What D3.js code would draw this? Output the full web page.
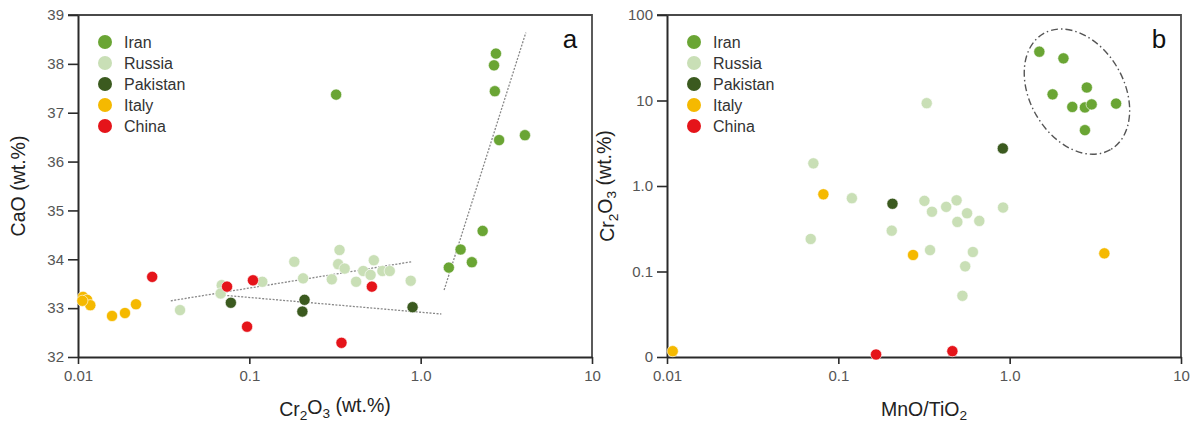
<!DOCTYPE html>
<html>
<head>
<meta charset="utf-8">
<script src="https://cdn.jsdelivr.net/npm/d3@7"></script>
<style>
  body { margin: 0; background: #fff; }
  svg { font-family: "Liberation Sans", Arial, sans-serif; }
</style>
</head>
<body>
<div id="chart"></div>
<script>
// legend / country names and colours
const countries = ["Iran", "Russia", "Pakistan", "Italy", "China"];
const colors = ["#6aa534", "#c9dfb6", "#3b5a1f", "#f5b900", "#e5141a"];

// panel a : Cr2O3 (wt.%) vs CaO (wt.%)
const iranA = [[0.321, 37.37], [2.75, 38.21], [2.68, 37.97], [2.71, 37.44], [2.87, 36.44],
  [4.06, 36.54], [2.30, 34.58], [1.71, 34.20], [1.99, 33.94], [1.46, 33.83]];
const russiaA = [[0.0394, 32.96], [0.069, 33.47], [0.068, 33.30], [0.119, 33.54], [0.183, 33.95],
  [0.206, 33.61], [0.303, 33.59], [0.336, 34.19], [0.33, 33.90], [0.36, 33.81], [0.42, 33.54],
  [0.462, 33.76], [0.51, 33.68], [0.533, 33.98], [0.598, 33.76], [0.66, 33.76], [0.875, 33.56]];
const pakistanA = [[0.078, 33.11], [0.21, 33.17], [0.204, 32.93], [0.897, 33.02]];
const italyA = [[0.0107, 33.23], [0.0113, 33.17], [0.0118, 33.06], [0.0106, 33.15],
  [0.0158, 32.84], [0.0188, 32.90], [0.0218, 33.08]];
const chinaA = [[0.0271, 33.64], [0.0741, 33.44], [0.105, 33.57], [0.097, 32.62], [0.519, 33.44], [0.345, 32.29]];
// dotted trend lines in panel a
const trendsA = [
  [[0.0348, 33.15], [0.886, 33.95]],
  [[0.0677, 33.27], [1.32, 32.88]],
  [[1.37, 33.37], [4.11, 38.64]]
];

// panel b : MnO/TiO2 vs Cr2O3 (wt.%)
const iranB = [[1.49, 37.2], [2.06, 31.1], [1.78, 11.8], [2.82, 14.2], [2.32, 8.4],
  [2.75, 8.3], [3.01, 9.0], [4.18, 9.2], [2.75, 4.5]];
const russiaB = [[0.0715, 1.84], [0.12, 0.72], [0.318, 0.67], [0.352, 0.50], [0.426, 0.57],
  [0.49, 0.68], [0.564, 0.48], [0.495, 0.38], [0.665, 0.39], [0.915, 0.56], [0.069, 0.24],
  [0.205, 0.30], [0.343, 0.178], [0.61, 0.169], [0.55, 0.115], [0.53, 0.052], [0.328, 9.3]];
const pakistanB = [[0.207, 0.62], [0.912, 2.75]];
const italyB = [[0.0818, 0.80], [0.273, 0.156], [3.57, 0.163], [0.0108, 0.0117]];
const chinaB = [[0.166, 0.0107], [0.463, 0.0117]];
// dash-dot ellipse around the Iran group (centre in data units, radii in px, angle in deg)
const ellipseB = { cx: 2.47, cy: 12.7, rx: 67, ry: 47, angle: 60 };

// tick values and labels
const xTicks = [0.01, 0.1, 1, 10];
const xTickLabels = ["0.01", "0.1", "1.0", "10"];
const yTicksA = [32, 33, 34, 35, 36, 37, 38, 39];
const yTicksB = [0.01, 0.1, 1, 10, 100];
const yTickLabelsB = ["0", "0.1", "1.0", "10", "100"];

const W = 1196, H = 423;
const svg = d3.select("#chart").append("svg")
  .attr("width", W).attr("height", H);

function subText(sel, parts) {
  // parts: [text, isSub, backUp]
  parts.forEach(p => {
    const t = sel.append("tspan").text(p[0]);
    if (p[1]) t.attr("font-size", "0.7em").attr("dy", "0.3em");
    else if (p[2]) t.attr("dy", "-0.3em");
  });
}

function panel(opt) {
  const x = d3.scaleLog().domain([0.01, 10]).range([opt.left, opt.right]);
  const y = opt.y;
  const g = svg.append("g");

  // frame top + right
  g.append("path")
    .attr("d", `M${opt.left - 10},${opt.top}H${opt.right}V${opt.bottom}`)
    .attr("fill", "none").attr("stroke", "#4a4a4a").attr("stroke-width", 1.8);

  // axes
  const xAxis = g.append("g").attr("transform", `translate(0,${opt.bottom})`)
    .call(d3.axisBottom(x).tickValues(xTicks).tickFormat((d, i) => xTickLabels[i])
      .tickSizeInner(7).tickSizeOuter(0).tickPadding(6));
  const yAxis = g.append("g").attr("transform", `translate(${opt.left},0)`)
    .call(d3.axisLeft(y).tickValues(opt.yTicks).tickFormat((d, i) => opt.yLabels[i])
      .tickSizeInner(10).tickSizeOuter(0).tickPadding(4));
  [xAxis, yAxis].forEach(a => {
    a.select(".domain").attr("stroke", "#2a2a2a").attr("stroke-width", 2);
    a.selectAll(".tick line").attr("stroke", "#2a2a2a").attr("stroke-width", 1.6);
    a.selectAll(".tick text").attr("fill", "#555").attr("font-size", 15);
  });

  // axis titles
  const xt = g.append("text").attr("x", (opt.left + opt.right) / 2).attr("y", 416)
    .attr("text-anchor", "middle").attr("font-size", 19.5).attr("fill", "#222");
  subText(xt, opt.xTitle);
  const yt = g.append("text")
    .attr("transform", `translate(${opt.left - 53},${(opt.top + opt.bottom) / 2}) rotate(-90)`)
    .attr("text-anchor", "middle").attr("font-size", 19.5).attr("fill", "#222");
  subText(yt, opt.yTitle);

  // panel letter
  g.append("text").attr("x", opt.right - 22).attr("y", 48)
    .attr("text-anchor", "middle").attr("font-size", 26).attr("fill", "#111").text(opt.letter);

  if (opt.extra) opt.extra(g, x, y);

  // points
  opt.series.forEach((s, i) => {
    g.append("g").selectAll("circle").data(s).enter().append("circle")
      .attr("cx", d => x(d[0])).attr("cy", d => y(d[1])).attr("r", 5.6)
      .attr("fill", colors[i]).attr("stroke", "#fff").attr("stroke-width", 0.6);
  });

  // legend
  const lg = g.append("g").attr("transform", `translate(${opt.left + 27},42)`);
  countries.forEach((c, i) => {
    lg.append("circle").attr("cx", 0).attr("cy", i * 21).attr("r", 7).attr("fill", colors[i]);
    lg.append("text").attr("x", 19).attr("y", i * 21 + 6).attr("font-size", 16)
      .attr("fill", "#333").text(c);
  });
}

panel({
  left: 78, right: 592, top: 15, bottom: 357, letter: "a",
  y: d3.scaleLinear().domain([32, 39]).range([357, 15]),
  yTicks: yTicksA, yLabels: yTicksA.map(String),
  xTitle: [["Cr"], ["2", true], ["O", false, true], ["3", true], [" (wt.%)", false, true]],
  yTitle: [["CaO (wt.%)"]],
  series: [iranA, russiaA, pakistanA, italyA, chinaA],
  extra: (g, x, y) => {
    const line = d3.line().x(d => x(d[0])).y(d => y(d[1]));
    g.selectAll(".trend").data(trendsA).enter().append("path")
      .attr("d", line).attr("fill", "none").attr("stroke", "#888")
      .attr("stroke-width", 1.3).attr("stroke-dasharray", "2,1.5");
  }
});

panel({
  left: 667, right: 1181, top: 15, bottom: 357, letter: "b",
  y: d3.scaleLog().domain([0.01, 100]).range([357, 15]),
  yTicks: yTicksB, yLabels: yTickLabelsB,
  xTitle: [["MnO/TiO"], ["2", true]],
  yTitle: [["Cr"], ["2", true], ["O", false, true], ["3", true], [" (wt.%)", false, true]],
  series: [iranB, russiaB, pakistanB, italyB, chinaB],
  extra: (g, x, y) => {
    g.append("ellipse")
      .attr("transform", `translate(${x(ellipseB.cx)},${y(ellipseB.cy)}) rotate(${ellipseB.angle})`)
      .attr("rx", ellipseB.rx).attr("ry", ellipseB.ry)
      .attr("fill", "none").attr("stroke", "#555").attr("stroke-width", 1.4)
      .attr("stroke-dasharray", "7,3,1.5,3");
  }
});
</script>
</body>
</html>
